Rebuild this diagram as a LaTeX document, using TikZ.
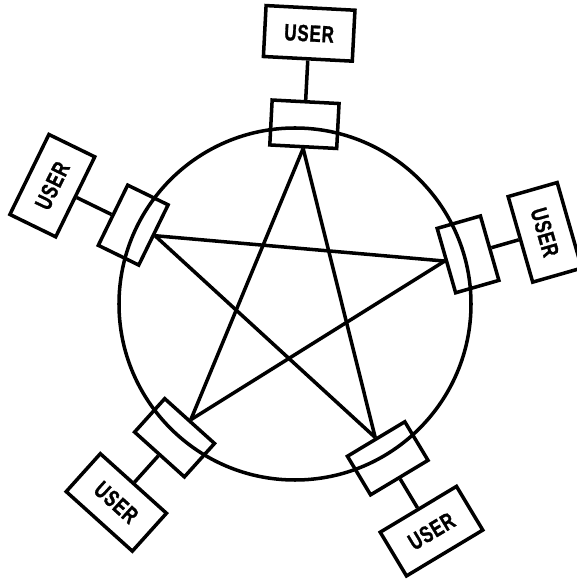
\documentclass[tikz,border=0pt]{standalone}
\usepackage{fontspec}
\newfontfamily\userfont[FakeStretch=0.72, FakeBold=1.2, LetterSpace=4]{Liberation Sans}
\usetikzlibrary{positioning}

\begin{document}
\begin{tikzpicture}[
  x=0.02cm, y=0.02cm,
  line width=2pt,
  userbox/.style = {rectangle, draw, minimum width=1.78cm, minimum height=1.02cm, inner sep=0pt,
                    font=\userfont\bfseries\fontsize{13.3pt}{15pt}\selectfont},
  tapbox/.style  = {rectangle, draw, minimum width=1.34cm, minimum height=0.9cm, inner sep=0pt},
  link/.style    = {line width=2pt},
]
  \useasboundingbox (-295,-276) rectangle (281,304);

  % ring
  \draw[link] (0,0) circle (176);

  % taps on the ring
  \node[tapbox, rotate=-74] (tapE)  at (16:180)  {};
  \node[tapbox, rotate=-3]  (tapN)  at (87:180)  {};
  \node[tapbox, rotate=64]  (tapW)  at (154:180) {};
  \node[tapbox, rotate=138] (tapSW) at (228:180) {};
  \node[tapbox, rotate=211] (tapSE) at (301:180) {};

  % users
  \node[userbox, rotate=-74] (userE)  at (16:260)  {USER};
  \node[userbox, rotate=-3]  (userN)  at (87:271)  {USER};
  \node[userbox, rotate=64]  (userW)  at (154:270) {USER};
  \node[userbox, rotate=-42] (userSW) at (228:267) {USER};
  \node[userbox, rotate=31]  (userSE) at (301:265) {USER};

  \draw[link] (userE)  -- (tapE);
  \draw[link] (userN)  -- (tapN);
  \draw[link] (userW)  -- (tapW);
  \draw[link] (userSW) -- (tapSW);
  \draw[link] (userSE) -- (tapSE);

  % star between the taps
  \draw[link] (tapN.south) -- (tapSW.south);
  \draw[link] (tapN.south) -- (tapSE.south);
  \draw[link] (tapW.south) -- (tapE.south);
  \draw[link] (tapW.south) -- (tapSE.south);
  \draw[link] (tapE.south) -- (tapSW.south);
\end{tikzpicture}
\end{document}
